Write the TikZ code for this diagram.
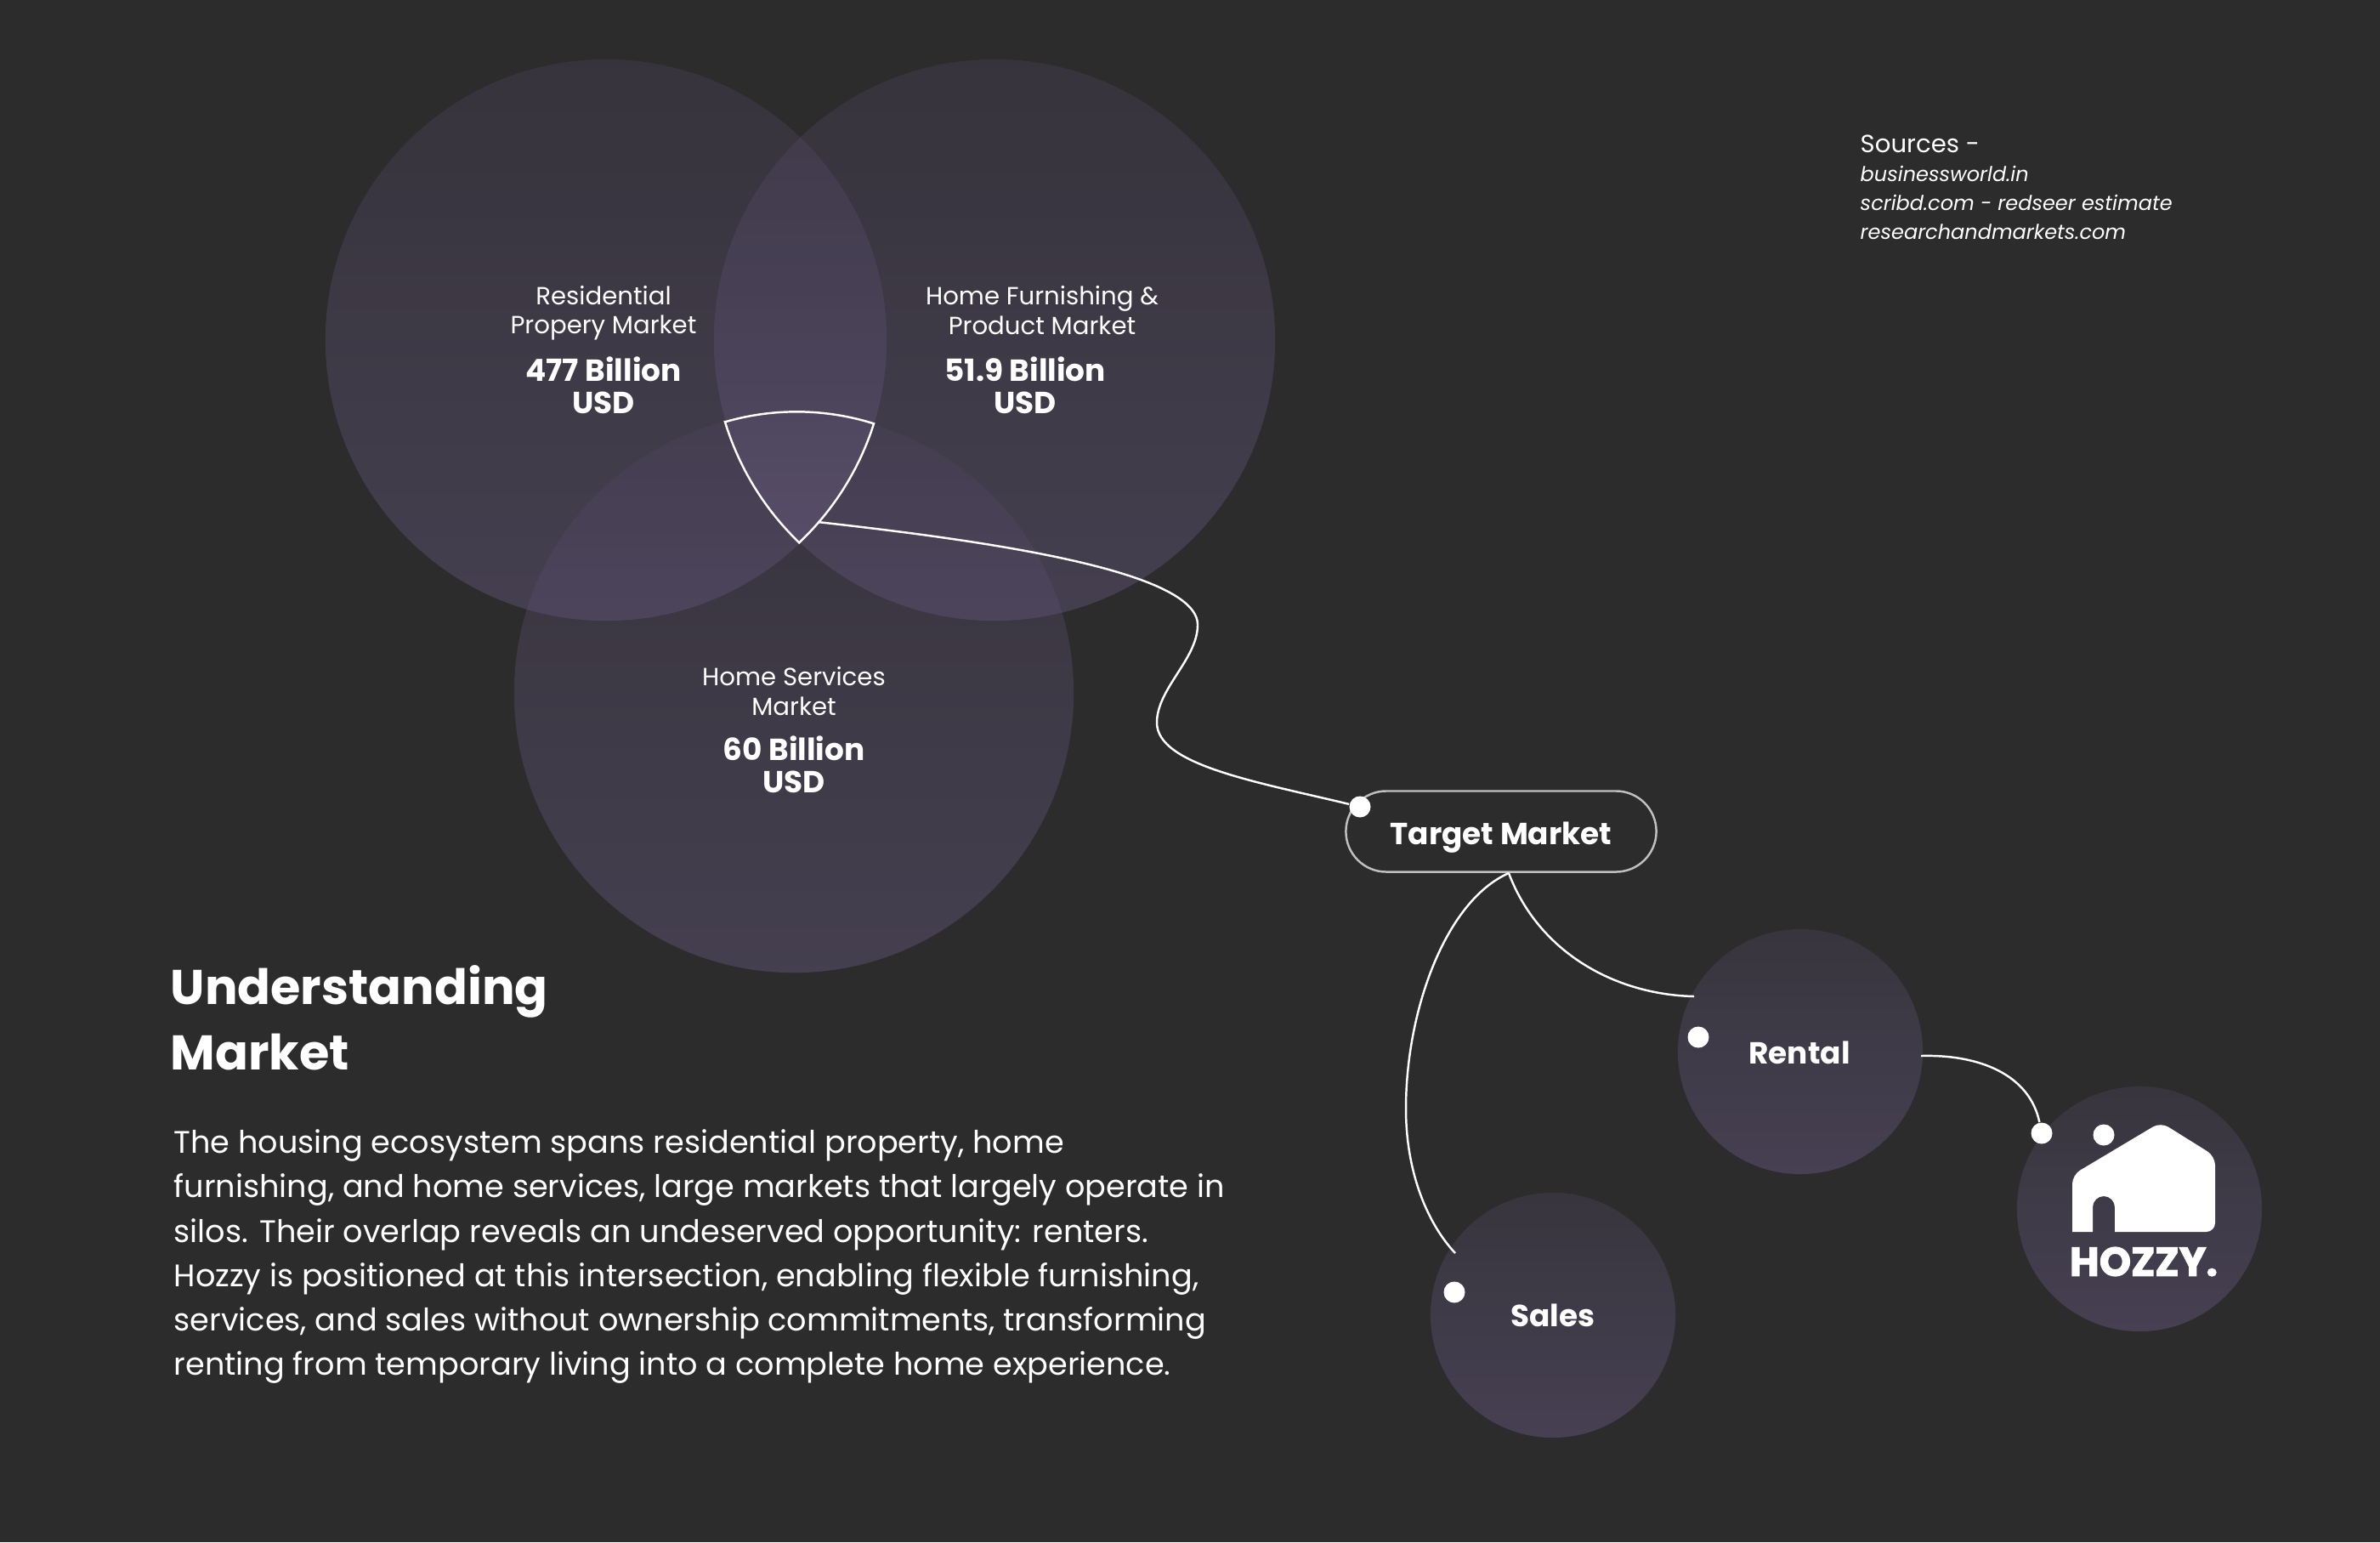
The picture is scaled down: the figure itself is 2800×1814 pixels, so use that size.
\documentclass[tikz,border=0pt]{standalone}
\usepackage{fontspec}
\usepackage{xcolor}
\usepackage{tikz}
\usetikzlibrary{positioning, calc, shapes.misc}
\setmainfont{Poppins}
\newfontfamily\logofont[FakeBold=2.4]{Poppins Bold}
\newcommand{\srcline}[1]{{\fontsize{6.83pt}{9.7pt}\selectfont\itshape #1}}
\definecolor{pagebg}{RGB}{44, 44, 44}
\definecolor{venntop}{RGB}{78, 68, 96}
\definecolor{vennbot}{RGB}{122, 105, 155}
\definecolor{discatop}{RGB}{56, 53, 62}
\definecolor{discbot}{RGB}{70, 64, 82}
\tikzset{
    venn/.style = {circle, minimum size=6.6cm, inner sep=0pt, top color=venntop, bottom color=vennbot, draw=none, opacity=0.32},
    disc/.style = {circle, minimum size=2.88cm, inner sep=0pt, top color=discatop, bottom color=discbot, draw=none},
    dot/.style = {circle, fill=white, minimum size=0.25cm, inner sep=0pt},
    wire/.style = {white, line width=0.7pt},
    marketlabel/.style = {white, align=center, font=\fontsize{8.3pt}{9.7pt}\selectfont},
    valuelabel/.style = {white, align=center, font=\fontsize{10.2pt}{10.9pt}\selectfont\bfseries},
    disclabel/.style = {white, font=\fontsize{10.2pt}{12pt}\selectfont\bfseries}
}
\begin{document}
\begin{tikzpicture}[x=0.01cm, y=-0.01cm]
\fill [pagebg] (0,0) rectangle (2800,1814);

% venn circles
\node (resid) [venn] at (713,400) {};
\node (furnish) [venn] at (1170,400) {};
\node (services) [venn, minimum size=6.58cm] at (934,815) {};

% shared region
\draw [white, line width=0.7pt, fill=white, fill opacity=0.02] (854,496)
    arc [start angle=254, end angle=287.5, radius=302]
    arc [start angle=17.6, end angle=46.6, radius=330]
    arc [start angle=133.8, end angle=163.1, radius=330] -- cycle;
\coordinate (overlap) at (962,614);

\node (residtext) [marketlabel] at (710,368) {Residential\\Propery Market};
\node (residval) [valuelabel] at (710,453) {477 Billion\\USD};
\node (furnishtext) [marketlabel] at (1226,365) {Home Furnishing \&\\Product Market};
\node (furnishval) [valuelabel] at (1206,453) {51.9 Billion\\USD};
\node (servicestext) [marketlabel] at (934,813) {Home Services\\Market};
\node (servicesval) [valuelabel] at (934,899) {60 Billion\\USD};

% discs
\node (rental) [disc] at (2118,1237) {};
\node (sales) [disc] at (1827,1547) {};
\node (hozzy) [disc] at (2517,1422) {};
\node (rentaltext) [disclabel] at (2117,1238) {Rental};
\node (salestext) [disclabel] at (1827,1547) {Sales};

\node (targetdot) [dot] at (1600,949) {};
\node (rentaldot) [dot] at (1998,1220) {};
\node (salesdot) [dot] at (1711,1520) {};
\node (hozzydot) [dot] at (2402,1333) {};
\node (logodot) [dot] at (2475,1335) {};

% pill
\node (target) [rounded rectangle, draw=white, draw opacity=0.7, line width=0.7pt, minimum width=3.65cm, minimum height=0.95cm, inner sep=0pt] at (1766,978) {};
\node (targettext) [disclabel] at (1766,985) {Target Market};
\coordinate (targetout) at (1775,1027);
\coordinate (rentalin) at (1993,1172);
\coordinate (rentalout) at (2260,1242);
\coordinate (salesin) at (1712,1474);

% connectors
\draw [wire] (overlap) .. controls (1150,635) and (1409,670) .. (1409,735)
    .. controls (1409,775) and (1361,810) .. (1361,850)
    .. controls (1361,900) and (1480,920) .. (targetdot);
\draw [wire] (targetout) .. controls (1810,1120) and (1900,1170) .. (rentalin);
\draw [wire] (targetout) .. controls (1700,1060) and (1654,1190) .. (1654,1304)
    .. controls (1654,1380) and (1680,1440) .. (salesin);
\draw [wire] (rentalout) .. controls (2330,1240) and (2388,1265) .. (hozzydot);

% logo
\fill [white, rounded corners=3pt] (2438,1449) -- (2438,1382) -- (2542,1320) -- (2606,1360) -- (2606,1449) [sharp corners] -- (2488,1449) -- (2488,1420)
    arc [start angle=0, end angle=-180, radius=13] -- (2462,1449) -- cycle;
\node (logotext) [white, inner sep=0pt, font=\fontsize{13.5pt}{14pt}\logofont] at (2522,1484) {HOZZY.};

% text blocks
\node (title) [white, anchor=west, align=left, inner sep=0pt, font=\fontsize{16.3pt}{21.9pt}\selectfont\bfseries] at (200,1197) {Understanding\\Market};
\node (blurb) [white, anchor=west, align=left, inner sep=0pt, font=\fontsize{10.42pt}{14.8pt}\selectfont] at (204,1478) {The housing ecosystem spans residential property, home\\furnishing, and home services, large markets that largely operate in\\silos. Their overlap reveals an undeserved opportunity: renters.\\Hozzy is positioned at this intersection, enabling flexible furnishing,\\services, and sales without ownership commitments, transforming\\renting from temporary living into a complete home experience.};
\node (sources) [white, anchor=north west, align=left, inner sep=0pt, font=\fontsize{8.3pt}{9.7pt}\selectfont] at (2188,158) {Sources -\\\srcline{businessworld.in}\\\srcline{scribd.com - redseer estimate}\\\srcline{researchandmarkets.com}};
\end{tikzpicture}
\end{document}
